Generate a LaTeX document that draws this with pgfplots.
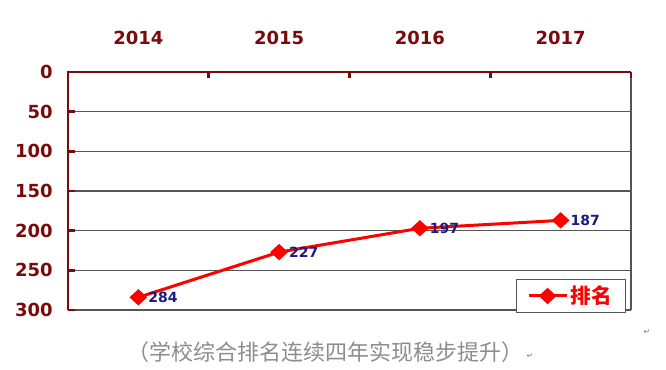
\documentclass[border=0pt]{standalone}
\usepackage{pgfplots}
\pgfplotsset{compat=1.18}
\usetikzlibrary{calc}
\usepackage{fontspec}
\setmainfont{Liberation Sans}
\newfontfamily\cjk{Noto Sans CJK SC}
\newfontfamily\dejavu{DejaVu Sans}
\definecolor{axred}{HTML}{7B0A0A}
\definecolor{navylab}{HTML}{1A1A80}
\definecolor{gridgray}{HTML}{555555}
\begin{document}
\begin{tikzpicture}[x=0.75pt,y=0.75pt]
\begin{axis}[
  scale only axis, width=422.25pt, height=178.5pt,
  y dir=reverse,
  xmin=-0.5, xmax=3.5, ymin=0, ymax=300,
  xtick={0,1,2,3}, xticklabels={2014,2015,2016,2017},
  xticklabel pos=upper,
  ytick={0,50,...,300},
  /pgf/number format/assume math mode=true,
  axis line style={draw=none},
  major x tick style={draw=none},
  ytick pos=left,
  major tick length=5pt,
  tick align=inside,
  major y tick style={axred, line width=2pt},
  ymajorgrids, grid style={gridgray, line width=0.8pt},
  yticklabel style={font=\dejavu\bfseries\fontsize{13.5}{13.5}\selectfont, text=axred, xshift=-8pt},
  xticklabel style={font=\dejavu\bfseries\fontsize{13.5}{13.5}\selectfont, text=axred, yshift=17pt},
  legend style={at={(0.991,-0.013)}, anchor=south east, draw=gridgray, line width=0.8pt,
    font=\cjk\bfseries\fontsize{15.5}{15.5}\selectfont, text=red, inner xsep=8pt, inner ysep=3pt},
  legend image code/.code={
    \draw[mark repeat=2, mark phase=2, #1, line width=2.25pt]
      plot coordinates {(0cm,0cm) (0.5cm,0cm) (1.0cm,0cm)};},
  legend cell align=left,
  clip=false,
]
\addplot[red, line width=2.25pt, mark=diamond*, mark size=4.6pt,
  mark options={xscale=1.45, solid, fill=red},
  nodes near coords, point meta=explicit symbolic,
  every node near coord/.style={anchor=west, xshift=3pt, text=navylab, font=\dejavu\bfseries\fontsize{10.5}{10.5}\selectfont}]
  coordinates {(0,284)[284] (1,227)[227] (2,197)[197] (3,187)[187]};
\addlegendentry{排名}
\draw[gridgray, line width=0.8pt] (axis cs:3.5,0) -- (axis cs:3.5,300);
\draw[axred, line width=2.2pt] (axis cs:-0.5,300) -- (axis cs:-0.5,0) -- (axis cs:3.5,0);
\draw[axred, line width=2pt] (axis cs:0.5,0) -- ++(0pt,-4.5pt);
\draw[axred, line width=2pt] (axis cs:1.5,0) -- ++(0pt,-4.5pt);
\draw[axred, line width=2pt] (axis cs:2.5,0) -- ++(0pt,-4.5pt);
\draw[axred, line width=2pt] (axis cs:3.5,0) -- ++(0pt,-4.5pt);
\coordinate (O) at (axis cs:-0.5,300);
\end{axis}
\pgfresetboundingbox
\path[use as bounding box] ($(O)+(-68,-60)$) rectangle ++(666,370);
\node[text=gray!90, font=\cjk\fontsize{16.5}{16.5}\selectfont] at ($(O)+(257,-42)$) {（学校综合排名连续四年实现稳步提升）};
\node[text=gray, font=\dejavu\fontsize{6}{6}\selectfont] at ($(O)+(462,-46)$) {↵};
\node[text=gray, font=\dejavu\fontsize{6}{6}\selectfont] at ($(O)+(579,-22)$) {↵};
\end{tikzpicture}
\end{document}
